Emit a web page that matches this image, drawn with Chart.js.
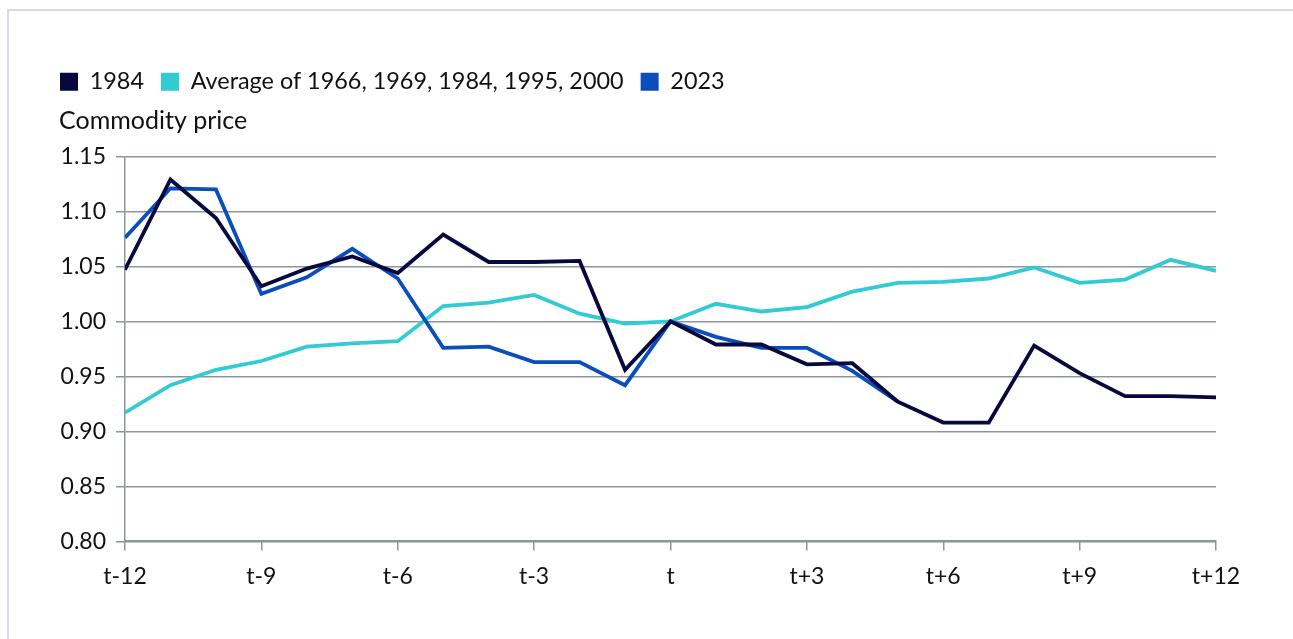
<!DOCTYPE html>
<html>
<head>
<meta charset="utf-8">
<script src="https://cdn.jsdelivr.net/npm/chart.js@4.4.1/dist/chart.umd.min.js"></script>
<style>
  html, body { margin: 0; padding: 0; background: #fff; }
  #frame {
    position: absolute; left: 7px; top: 9px; width: 1290px; height: 640px;
    border-left: 2px solid #d5dce3; border-top: 2px solid #d5dce3;
  }
  #wrap { position: absolute; left: 0; top: 0; width: 1293px; height: 639px; }
</style>
</head>
<body>
<div id="frame"></div>
<div id="wrap"><canvas id="chart"></canvas></div>
<script>
// Commodity price around episode start t (t = 1.00)

const periods = [-12, -11, -10, -9, -8, -7, -6, -5, -4, -3, -2, -1, 0,
                 1, 2, 3, 4, 5, 6, 7, 8, 9, 10, 11, 12];

const series1984 = [1.047, 1.129, 1.094, 1.032, 1.048, 1.059, 1.044, 1.079, 1.054, 1.054, 1.055, 0.956, 1.000,
                    0.979, 0.979, 0.961, 0.962, 0.927, 0.908, 0.908, 0.978, 0.953, 0.932, 0.932, 0.931];

const seriesAverage = [0.917, 0.942, 0.956, 0.964, 0.977, 0.980, 0.982, 1.014, 1.017, 1.024, 1.007, 0.998, 1.000,
                       1.016, 1.009, 1.013, 1.027, 1.035, 1.036, 1.039, 1.049, 1.035, 1.038, 1.056, 1.046];

const series2023 = [1.076, 1.121, 1.120, 1.025, 1.040, 1.066, 1.039, 0.976, 0.977, 0.963, 0.963, 0.942, 1.000,
                    0.986, 0.976, 0.976, 0.955, 0.927, null, null, null, null, null, null, null];

const yTicks = [0.80, 0.85, 0.90, 0.95, 1.00, 1.05, 1.10, 1.15];
const yTitle = 'Commodity price';

const FONT = 'Lato, "Noto Sans", sans-serif';
const TEXT = '#111';
const GRID = '#8c959d';

function toPoints(values) {
  return periods.map((p, i) => ({ x: p, y: values[i] }));
}

function periodLabel(v) {
  if (v === 0) return 't';
  return v > 0 ? `t+${v}` : `t${v}`;
}

const datasets = [
  { label: '1984', data: toPoints(series1984), borderColor: '#07083d', order: 0 },
  { label: 'Average of 1966, 1969, 1984, 1995, 2000', data: toPoints(seriesAverage), borderColor: '#33cbd3', order: 2 },
  { label: '2023', data: toPoints(series2023), borderColor: '#0a4dbd', order: 1 },
].map(d => ({ ...d, backgroundColor: d.borderColor, borderWidth: 3.8, pointRadius: 0, tension: 0, fill: false }));

// extra room under the legend for the axis title
const legendSpace = {
  id: 'legendSpace',
  beforeInit(chart) {
    const fit = chart.legend.fit;
    chart.legend.fit = function () {
      fit.bind(chart.legend)();
      this.height += 53;
    };
  },
};

// "Commodity price" sits above the y axis, left aligned with the legend
const axisTitle = {
  id: 'axisTitle',
  afterDraw(chart) {
    const ctx = chart.ctx;
    ctx.save();
    ctx.font = `25px ${FONT}`;
    ctx.fillStyle = TEXT;
    ctx.textBaseline = 'middle';
    ctx.textAlign = 'left';
    ctx.fillText(yTitle, 59, chart.chartArea.top - 35);
    ctx.restore();
  },
};

new Chart(document.getElementById('chart'), {
  type: 'line',
  data: { datasets },
  plugins: [legendSpace, axisTitle],
  options: {
    responsive: true,
    maintainAspectRatio: false,
    animation: false,
    layout: { padding: { left: 43, right: 77, top: 53, bottom: 37 } },
    plugins: {
      legend: {
        position: 'top',
        align: 'start',
        labels: {
          color: TEXT,
          font: { family: FONT, size: 23.4 },
          boxWidth: 18,
          boxHeight: 18,
          padding: 17,
          generateLabels(chart) {
            return chart.data.datasets.map((ds, i) => ({
              text: ds.label,
              fillStyle: ds.borderColor,
              strokeStyle: ds.borderColor,
              lineWidth: 0,
              datasetIndex: i,
              fontColor: TEXT,
            }));
          },
        },
      },
      tooltip: { enabled: false },
    },
    scales: {
      x: {
        type: 'linear',
        min: -12,
        max: 12,
        ticks: {
          stepSize: 3,
          color: TEXT,
          font: { family: FONT, size: 23 },
          padding: 12,
          callback: v => periodLabel(v),
        },
        grid: { drawOnChartArea: false, drawTicks: true, tickLength: 9, color: GRID, lineWidth: 1.5 },
        border: { color: GRID, width: 2 },
      },
      y: {
        min: 0.80,
        max: 1.15,
        afterBuildTicks(scale) { scale.ticks = yTicks.map(v => ({ value: v })); },
        afterFit(scale) { scale.width = 82; },
        ticks: {
          color: TEXT,
          font: { family: FONT, size: 23 },
          padding: 10,
          callback: v => Number(v).toFixed(2),
        },
        grid: { color: GRID, lineWidth: 1.5, tickLength: 9 },
        border: { color: GRID, width: 1.5 },
      },
    },
  },
});
</script>
</body>
</html>
